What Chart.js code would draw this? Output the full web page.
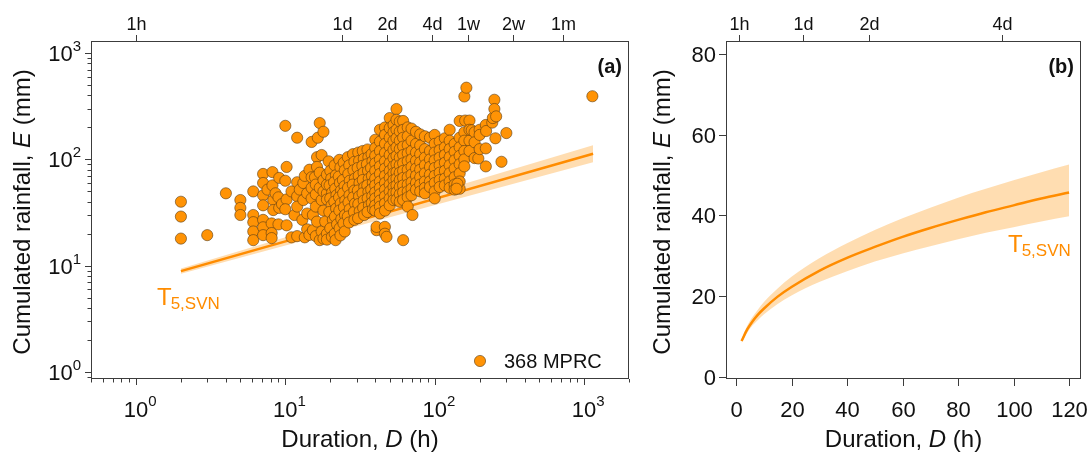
<!DOCTYPE html>
<html>
<head>
<meta charset="utf-8">
<script src="https://cdn.jsdelivr.net/npm/chart.js@4.4.0/dist/chart.umd.min.js"></script>
<style>
  body { margin: 0; background: #fff; }
  #wrap { position: relative; width: 1089px; height: 457px; }
  canvas { position: absolute; top: 0; }
  #panel-a { left: 0; }
  #panel-b { left: 640px; }
</style>
</head>
<body>
<div id="wrap">
  <canvas id="panel-a" width="640" height="457"></canvas>
  <canvas id="panel-b" width="449" height="457"></canvas>
</div>
<script>
const FONT = '"Liberation Sans", Arial, sans-serif';
const ORANGE = '#ff8c00';
const BAND = 'rgba(255,160,40,0.36)';
const DOT = '#ff9305';
const INK = '#111';

// rainfall conditions that triggered landslides: [duration (h), cumulated rainfall (mm)]
const mprcEvents = [
  [2,40],[2,29],[2,18],[3,19.4],[4,48],
  [5,41.5],[5,35],[5,30],
  [6.1,50],[6.1,30],[6.1,25.7],[6.1,21],[6.1,17.4],
  [7.1,73],[7.1,60],[7.1,46],[7.1,37],[7.1,27],[7.1,23],[7.1,19.4],[7.6,52],
  [8.2,76],[8.2,57],[8.3,41.5],[8.3,33.4],[8.1,25],[8.1,20.3],[8.1,18.2],[8.6,48],
  [9.1,67],[9,44],[9.1,35],[9,24.5],[9.5,38],
  [10,207],[10.2,85],[10,63],[10.2,42],[10,34],[10.2,24],
  [11,50],[11.5,30],[11,18.5],
  [12,160],[12,61],[12,45],[12,36],[12,19],[12.5,52],
  [13.2,60],[13.2,41.5],[13,27],[13.5,70],[13.5,18.5],
  [14,31],[14,48],[14,22],[14.5,80],[14.5,19.5],
  [15,146],[15,68],[15,54],[15,43],[15.3,30],[15.3,21.6],[15.8,68],
  [16.3,26],[16.3,105],[16.5,160],[16.3,85],[16,36],[16,47],[16,58],[16,19],
  [17,220],[17,54],[17,75],[17,17.4],[17.5,41.5],[17.5,21],[17.5,110],
  [18,182],[18,64],[18,33],[18,50],[18,18],[18.5,26],
  [19,48],[19,72],[19,20],[19,42],[19,58],[19,17.6],
  [19.5,96],[20,78],[20.3,66],[19.8,57],[20.6,49],[20,43],[20.4,37],[19.7,32],[20.8,27],[20,22.5],[20.5,18.7],
  [21.4,88],[21.8,71],[21.2,61],[21.6,53],[22,46],[21.3,40],[21.9,34.5],[21.5,29],[22.2,24.5],[21.4,20],[21.7,17.4],
  [23,99],[23.4,84],[22.8,69],[23.2,60],[23.6,51],[22.9,44],[23.5,38.6],[23,33],[23.7,27.5],[23.1,22.5],[23.4,19.3],
  [24.6,93],[25,79],[24.3,64],[24.9,56],[24.4,48],[25.2,41],[24.7,35.5],[25.1,30],[24.5,25],[25,21],
  [26.2,105],[26.8,88],[26.4,73],[27,63],[26.3,54],[26.9,46],[26.5,39.5],[27,34],[26.2,29],[26.7,25.5],
  [28.4,112],[29,95],[28.6,79],[29.2,66],[28.3,58],[29,51],[28.5,44],[29.3,38.5],[28.8,32],[29,27],
  [30.8,116],[31.2,97],[30.5,83],[31,70],[31.4,60],[30.6,51],[31.2,45],[30.8,38],[31.5,32.5],[30.7,28],
  [33,120],[33.5,101],[32.8,87],[33.4,75],[33,64],[33.8,55],[32.9,48],[33.5,41],[33.2,35],[33.7,30],
  [35.5,124],[36,105],[35.2,90],[35.8,78],[36.2,66],[35.4,57],[36,49.5],[35.6,43],[36.3,37],[35.5,32],
  [37.8,112],[38.3,96],[37.5,83],[38,70],[38.5,60],[37.6,52],[38.2,45],[37.9,39],[38.6,34],
  [40,153],[40,128],[40,108],[40,92],[40,78],[40,66],[40,57],[40,49],[40,43],[40,37],[40,33],[40.8,21.6],[40.8,23.2],
  [43,190],[43,147],[43,120],[43,100],[43,86],[43,73],[43,62],[43,54],[43,47],[43,41],[43,36],[43,31],
  [46.4,23.2],[46.4,20],[47.6,18.7],
  [46.5,200],[46.5,170],[46.5,140],[46.5,115],[46.5,96],[46.5,82],[46.5,70],[46.5,60],[46.5,52],[46.5,45],[46.5,38.6],[46.5,33],
  [50,245],[50,197],[50,160],[50,132],[50,110],[50,92],[50,78],[50,67],[50,58],[50,50],[50,43],[50,37],
  [53,211],[53,180],[53,150],[53,123],[53,103],[53,86],[53,74],[53,64],[53,55],[53,48],[53,41.5],
  [55.5,298],[55.5,236],[55.5,190],[55.5,158],[55.5,130],[55.5,108],[55.5,90],[55.5,76],[55.5,66],[55.5,57],[55.5,49],[55.5,42],
  [58.4,227],[58.4,183],[58.4,150],[58.4,125],[58.4,104],[58.4,88],[58.4,75],[58.4,64],[58.4,55],[58.4,47],[58.4,40],
  [61.5,17.4],[61.5,230],[61.5,190],[61.5,160],[61.5,132],[61.5,110],[61.5,92],[61.5,78],[61.5,67],[61.5,57],[61.5,49],[61.5,41.5],
  [66,200],[66,165],[66,136],[66,114],[66,96],[66,80],[66,68],[66,58],[66,50],[66,44],[66,36],
  [71,30],[70,195],[70,150],[70,120],[70,100],[70,85],[70,72],[70,61],[70,53],[70,46],
  [75,182],[75,140],[75,116],[75,97],[75,82],[75,70],[75,60],[75,52],
  [80,172],[80,135],[80,112],[80,94],[80,80],[80,68],[80,58],[80,50],
  [86,165],[86,125],[86,104],[86,88],[86,74],[86,62],[86,54],[86,48],
  [93,160],[93,120],[93,100],[93,85],[93,72],[93,62],[93,55],
  [100,170],[100,140],[100,116],[100,98],[100,83],[100,70],[100,60],[100,50],[100,43],
  [108,147],[108,122],[108,104],[108,88],[108,75],[108,64],[108,55],
  [117,158],[117,130],[117,110],[117,93],[117,78],[117,66],[117,57],
  [126,190],[126,150],[126,125],[126,105],[126,88],[126,74],[126,62],[126,54],
  [136,140],[136,118],[136,98],[136,82],[136,68],[136,58],[136,52],
  [147,230],[147,160],[147,130],[147,108],[147,90],[147,74],[147,62],[147,53],[142,59],[140,53],
  [158,391],[160,232],[158,180],[158,150],[158,120],[158,100],[158,86],
  [163,473],[171,232],[171,190],[171,150],[171,120],[177,188],
  [185,180],[185,145],[185,103],[196,102],[200,190],[200,170],[200,125],
  [220,211],[221,185],[220,127],[220,86],[243,222],[245,245],[255,158],
  [251,364],[251,298],[258,254],[280,95],[302,177],[1137,393]
];
const mprcLabel = '368 MPRC';

// T5 threshold on the log-log plane, with its uncertainty band
const thrDuration = [2, 1150];
const thrRain = [8.9, 113];
const thrRainLow = [8.4, 94];
const thrRainHigh = [9.4, 136];

// the same threshold on linear axes, first five days
const curveDuration = [2, 4, 6, 8, 10, 15, 20, 30, 40, 50, 60, 70, 80, 90, 100, 110, 120];
const curveRain = [8.9, 11.7, 13.8, 15.5, 16.9, 19.9, 22.3, 26.3, 29.5, 32.2, 34.7, 36.9, 38.9, 40.8, 42.5, 44.2, 45.7];
const curveRainLow = [8.4, 10.9, 12.8, 14.2, 15.5, 18.1, 20.2, 23.5, 26.2, 28.6, 30.6, 32.4, 34.1, 35.7, 37.1, 38.5, 39.8];
const curveRainHigh = [9.4, 12.6, 14.9, 16.8, 18.5, 21.9, 24.8, 29.4, 33.1, 36.4, 39.3, 41.9, 44.4, 46.6, 48.7, 50.7, 52.6];

// time marks on the upper axes
const topTicksA = [1, 24, 48, 96, 168, 336, 720];
const topLabelsA = ['1h', '1d', '2d', '4d', '1w', '2w', '1m'];
const topTicksB = [1, 24, 48, 96];
const topLabelsB = ['1h', '1d', '2d', '4d'];
const xTicksB = [0, 20, 40, 60, 80, 100, 120];
const yTicksB = [0, 20, 40, 60, 80];

const TICK_PX = 22;
const SUP_PX = 15;

const toXY = (xs, ys) => xs.map((x, i) => ({ x: x, y: ys[i] }));
const font = (size, style) => (style || '') + ' ' + size + 'px ' + FONT;

function line(ctx, x1, y1, x2, y2) {
  ctx.beginPath();
  ctx.moveTo(x1, y1);
  ctx.lineTo(x2, y2);
  ctx.stroke();
}

function drawFrame(chart) {
  const { ctx, chartArea: a } = chart;
  ctx.strokeStyle = '#3c3c3c';
  ctx.lineWidth = 1;
  ctx.strokeRect(a.left + 0.5, a.top + 0.5, a.right - a.left - 1, a.bottom - a.top - 1);
}

// text made of pieces with different fonts (normal / italic)
function drawPieces(ctx, pieces, x, y) {
  let w = 0;
  pieces.forEach(p => { ctx.font = p[1]; w += ctx.measureText(p[0]).width; });
  let cx = x - w / 2;
  ctx.textAlign = 'left';
  pieces.forEach(p => {
    ctx.font = p[1];
    ctx.fillText(p[0], cx, y);
    cx += ctx.measureText(p[0]).width;
  });
}

function drawTopAxis(chart, ticks, labels) {
  const { ctx, chartArea: a, scales } = chart;
  ctx.strokeStyle = '#3c3c3c';
  ctx.fillStyle = INK;
  ctx.font = font(18);
  ctx.textAlign = 'center';
  ctx.textBaseline = 'alphabetic';
  ticks.forEach((v, i) => {
    const x = Math.round(scales.x.getPixelForValue(v)) + 0.5;
    line(ctx, x, a.top, x, a.top - 6);
    ctx.fillText(labels[i], x, a.top - 11);
  });
}

function drawTitles(ctx, chart, yTitleX) {
  const a = chart.chartArea;
  ctx.fillStyle = INK;
  ctx.textBaseline = 'alphabetic';
  drawPieces(ctx, [['Duration, ', font(24)], ['D', font(24, 'italic')], [' (h)', font(24)]],
    (a.left + a.right) / 2, 447);
  ctx.save();
  ctx.translate(yTitleX, (a.top + a.bottom) / 2 + 2);
  ctx.rotate(-Math.PI / 2);
  drawPieces(ctx, [['Cumulated rainfall, ', font(24)], ['E', font(24, 'italic')], [' (mm)', font(24)]], 0, 0);
  ctx.restore();
}

function drawThresholdName(ctx, x, y) {
  ctx.fillStyle = ORANGE;
  ctx.textAlign = 'left';
  ctx.textBaseline = 'alphabetic';
  ctx.font = font(24);
  ctx.fillText('T', x, y);
  const w = ctx.measureText('T').width;
  ctx.font = font(17);
  ctx.fillText('5,SVN', x + w - 1, y + 4);
}

function drawPanelLetter(ctx, chart, letter) {
  const a = chart.chartArea;
  ctx.fillStyle = INK;
  ctx.font = font(20, 'bold');
  ctx.textAlign = 'right';
  ctx.textBaseline = 'alphabetic';
  ctx.fillText(letter, a.right - 7, a.top + 32);
}

// panel (a): log-log axes with power-of-ten labels
const logAxes = {
  id: 'logAxes',
  afterDraw(chart) {
    const { ctx, chartArea: a, scales } = chart;
    const sx = scales.x, sy = scales.y;
    ctx.save();
    drawFrame(chart);
    ctx.strokeStyle = '#3c3c3c';
    ctx.lineWidth = 1;
    for (let p = -1; p <= 3; p++) {
      for (let k = 1; k < 10; k++) {
        const v = k * Math.pow(10, p);
        const len = k === 1 ? 6 : 3.5;
        if (v >= sx.min && v <= sx.max) {
          const x = Math.round(sx.getPixelForValue(v)) + 0.5;
          line(ctx, x, a.bottom, x, a.bottom + len);
        }
        if (v >= sy.min && v <= sy.max) {
          const y = Math.round(sy.getPixelForValue(v)) + 0.5;
          line(ctx, a.left, y, a.left - len, y);
        }
      }
    }
    ctx.fillStyle = INK;
    ctx.textBaseline = 'alphabetic';
    for (let p = 0; p <= 3; p++) {
      const v = Math.pow(10, p);
      // x labels
      const x = sx.getPixelForValue(v);
      ctx.font = font(TICK_PX);
      ctx.textAlign = 'center';
      ctx.fillText('10', x, 417);
      const w10 = ctx.measureText('10').width;
      ctx.font = font(SUP_PX);
      ctx.textAlign = 'left';
      ctx.fillText(String(p), x + w10 / 2, 406);
      // y labels
      const y = sy.getPixelForValue(v);
      ctx.font = font(SUP_PX);
      const we = ctx.measureText(String(p)).width;
      ctx.textAlign = 'right';
      ctx.fillText(String(p), a.left - 10, y - 2);
      ctx.font = font(TICK_PX);
      ctx.fillText('10', a.left - 10 - we, y + 8);
    }
    drawTopAxis(chart, topTicksA, topLabelsA);
    drawTitles(ctx, chart, 30);
    drawThresholdName(ctx, 157, 305);
    drawPanelLetter(ctx, chart, '(a)');

    // legend
    ctx.beginPath();
    ctx.arc(480, 361, 5.6, 0, Math.PI * 2);
    ctx.fillStyle = DOT;
    ctx.fill();
    ctx.strokeStyle = 'rgba(90,60,20,0.75)';
    ctx.lineWidth = 0.8;
    ctx.stroke();
    ctx.fillStyle = INK;
    ctx.font = font(20);
    ctx.textAlign = 'left';
    ctx.textBaseline = 'middle';
    ctx.fillText(mprcLabel, 504, 362);
    ctx.restore();
  }
};

// panel (b): linear axes
const linAxes = {
  id: 'linAxes',
  afterDraw(chart) {
    const { ctx, chartArea: a, scales } = chart;
    ctx.save();
    drawFrame(chart);
    ctx.strokeStyle = '#3c3c3c';
    ctx.lineWidth = 1;
    ctx.fillStyle = INK;
    ctx.font = font(TICK_PX);
    ctx.textBaseline = 'alphabetic';
    ctx.textAlign = 'center';
    xTicksB.forEach(v => {
      const x = Math.round(scales.x.getPixelForValue(v)) + 0.5;
      line(ctx, x, a.bottom, x, a.bottom + 7);
      ctx.fillText(String(v), x, 417);
    });
    ctx.textAlign = 'right';
    ctx.textBaseline = 'middle';
    yTicksB.forEach(v => {
      const y = Math.round(scales.y.getPixelForValue(v)) + 0.5;
      line(ctx, a.left, y, a.left - 7, y);
      ctx.fillText(String(v), a.left - 10, y + 1);
    });
    drawTopAxis(chart, topTicksB, topLabelsB);
    drawTitles(ctx, chart, 30);
    drawThresholdName(ctx, 368, 252);
    drawPanelLetter(ctx, chart, '(b)');
    ctx.restore();
  }
};

Chart.defaults.font.family = FONT;
Chart.defaults.animation = false;

new Chart(document.getElementById('panel-a'), {
  type: 'scatter',
  data: {
    datasets: [
      {
        label: mprcLabel,
        data: mprcEvents.map(e => ({ x: e[0], y: e[1] })),
        pointRadius: 5.6,
        backgroundColor: DOT,
        borderColor: 'rgba(90,60,20,0.75)',
        borderWidth: 0.8,
        order: 0
      },
      {
        type: 'line',
        data: toXY(thrDuration, thrRain),
        borderColor: ORANGE,
        borderWidth: 2.5,
        pointRadius: 0,
        order: 1
      },
      {
        type: 'line',
        data: toXY(thrDuration, thrRainHigh),
        borderColor: 'transparent',
        backgroundColor: BAND,
        pointRadius: 0,
        fill: '+1',
        order: 2
      },
      {
        type: 'line',
        data: toXY(thrDuration, thrRainLow),
        borderColor: 'transparent',
        pointRadius: 0,
        order: 3
      }
    ]
  },
  options: {
    responsive: false,
    devicePixelRatio: 1,
    layout: { padding: { left: 91, right: 11, top: 41, bottom: 78 } },
    scales: {
      x: { type: 'logarithmic', min: 0.5, max: 2000, display: false },
      y: { type: 'logarithmic', min: 0.86, max: 1300, display: false }
    },
    plugins: { legend: { display: false }, tooltip: { enabled: false } }
  },
  plugins: [logAxes]
});

new Chart(document.getElementById('panel-b'), {
  type: 'line',
  data: {
    datasets: [
      {
        data: toXY(curveDuration, curveRain),
        borderColor: ORANGE,
        borderWidth: 2.5,
        pointRadius: 0,
        cubicInterpolationMode: 'monotone',
        order: 1
      },
      {
        data: toXY(curveDuration, curveRainHigh),
        borderColor: 'transparent',
        backgroundColor: BAND,
        pointRadius: 0,
        cubicInterpolationMode: 'monotone',
        fill: '+1',
        order: 2
      },
      {
        data: toXY(curveDuration, curveRainLow),
        borderColor: 'transparent',
        pointRadius: 0,
        cubicInterpolationMode: 'monotone',
        order: 3
      }
    ]
  },
  options: {
    responsive: false,
    devicePixelRatio: 1,
    layout: { padding: { left: 86, right: 8, top: 41, bottom: 78 } },
    scales: {
      x: { type: 'linear', min: -3.6, max: 124.3, display: false },
      y: { type: 'linear', min: -0.5, max: 83.2, display: false }
    },
    plugins: { legend: { display: false }, tooltip: { enabled: false } }
  },
  plugins: [linAxes]
});
</script>
</body>
</html>
